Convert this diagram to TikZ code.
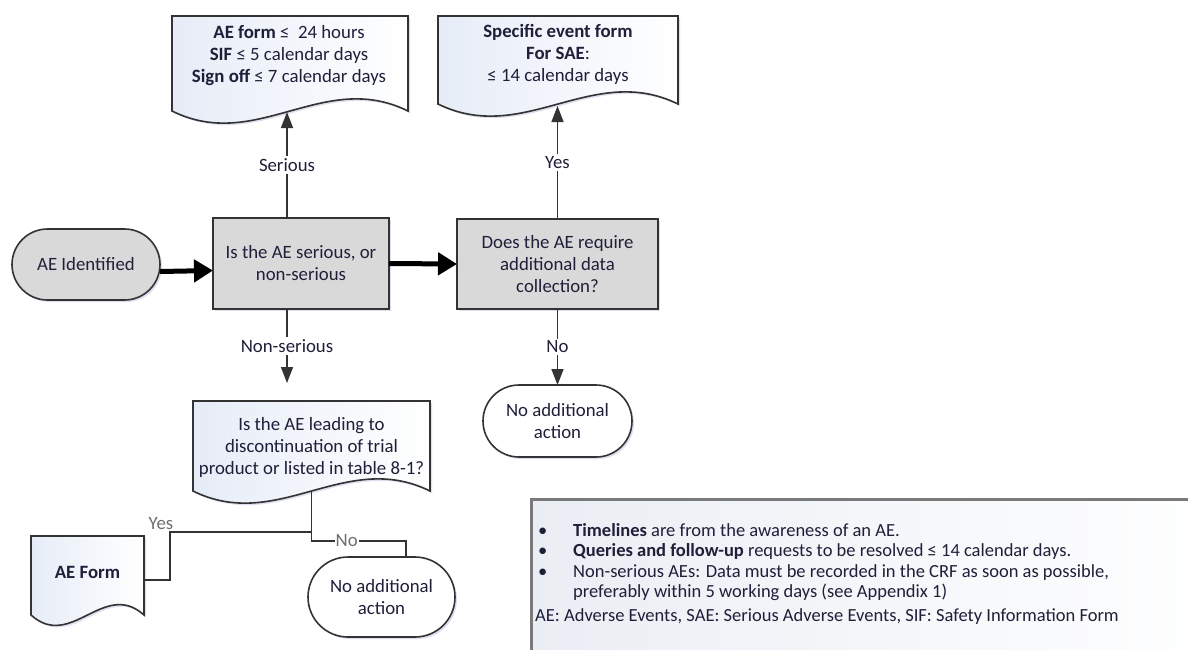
\documentclass[tikz,border=0pt]{standalone}
\usepackage{fontspec}
\setmainfont{Carlito}
\usetikzlibrary{arrows.meta,calc,shadows,shapes.misc}
\definecolor{txt}{HTML}{1F1F3A}
\definecolor{edge}{HTML}{333333}
\definecolor{boxgray}{HTML}{D9D9D9}
\definecolor{docblue}{HTML}{E6ECF7}
\definecolor{lbl}{HTML}{6E6E6E}
\definecolor{noteedge}{HTML}{7A7A7A}
\definecolor{noteblue}{HTML}{EAEEF4}
\newcommand\docshape[3]{%
  \path[docstyle] (#1.north west) -- (#1.north east) -- (#1.south east)
    .. controls +(-#2,-#3) and +(#2,#3) .. (#1.south west) -- cycle;}
\begin{document}
\begin{tikzpicture}[x=1pt,y=-1pt,
  font=\fontsize{18.8}{22}\selectfont, text=txt,
  shadowed/.style={drop shadow={shadow xshift=2pt,shadow yshift=-2pt,opacity=0.18,fill=blue!40!gray}},
  base/.style={draw=edge, line width=1.6pt, align=center, inner sep=0pt, outer sep=0pt},
  procbox/.style={base, rectangle, fill=boxgray, shadowed},
  term/.style={base, rounded rectangle, shadowed},
  docnode/.style={rectangle, draw=none, inner sep=0pt, outer sep=0pt},
  docstyle/.style={draw=edge, line width=1.6pt, left color=docblue, right color=white, shadowed},
  txtnode/.style={align=center, inner sep=0pt},
  conn/.style={draw=edge, line width=1.5pt},
  arr/.style={conn, -{Triangle[length=16pt,width=12pt]}},
  bigarr/.style={draw=black, line width=5pt, -{Triangle[length=19pt,width=22pt]}},
  lab/.style={fill=white, inner sep=2pt, text=txt},
  graylab/.style={fill=white, inner sep=1pt, text=lbl}
  ]
\useasboundingbox (0,0) rectangle (1188,649);
\fill[white] (0,0) rectangle (1188,649);

% documents (outline nodes)
\node[docnode, minimum width=236pt, minimum height=95pt] (doc1) at (290,63.5) {};
\node[docnode, minimum width=240pt, minimum height=88pt] (doc2) at (558,60) {};
\node[docnode, minimum width=237pt, minimum height=90pt] (doc3) at (311.5,446) {};
\node[docnode, minimum width=113pt, minimum height=79pt] (aeform) at (87.5,575.5) {};
\docshape{doc1}{85}{42}
\docshape{doc2}{86}{42}
\docshape{doc3}{85}{42}
\docshape{aeform}{40}{36}

\node[txtnode] (doc1txt) at (289,55.5) {\textbf{AE form} ≤\ \ 24 hours\\\textbf{SIF} ≤ 5 calendar days\\\textbf{Sign off} ≤ 7 calendar days};
\node[txtnode] (doc2txt) at (558,54.5) {\textbf{Specific event form}\\\textbf{For SAE}:\\≤ 14 calendar days};
\node[txtnode] (doc3txt) at (311.5,447.5) {Is the AE leading to\\discontinuation of trial\\product or listed in table 8-1?};
\node[txtnode] (aeformtxt) at (87.5,572) {\textbf{AE Form}};

% process and terminal shapes
\node[term, fill=boxgray, minimum width=148pt, minimum height=71pt] (aeid) at (86,264.5) {AE Identified};
\node[procbox, minimum width=176pt, minimum height=91pt] (box1) at (301,263.5) {Is the AE serious, or\\non-serious};
\node[procbox, minimum width=201pt, minimum height=90pt] (box2) at (557.5,264) {Does the AE require\\additional data\\collection?};
\node[term, fill=white, minimum width=149pt, minimum height=72pt] (oval1) at (557.5,421) {No additional\\action};
\node[term, fill=white, minimum width=147pt, minimum height=80pt] (oval2) at (381.5,597) {No additional\\action};

% connectors
\draw[bigarr] ([yshift=-7pt]aeid.east) -- ([yshift=-7pt]box1.west);
\draw[bigarr] (box1.east) -- (box2.west);

\coordinate (doc1in) at (287,112);
\coordinate (doc2in) at (557.5,106);
\coordinate (nsend) at (287,383);
\draw[arr] (box1.north -| doc1in) -- node[lab]{Serious} (doc1in);
\draw[arr] (box2.north) -- node[lab]{Yes} (doc2in);
\draw[arr] (box1.south -| nsend) -- node[lab]{Non-serious} (nsend);
\draw[arr] (box2.south) -- node[lab]{No} (oval1.north);

\coordinate (j1) at (170,532);
\coordinate (j2) at (406,541);
\draw[conn] (doc3.south) |- (j1) |- ([yshift=-4.5pt]aeform.east);
\node[text=lbl, anchor=south, inner sep=1pt] (yeslab) at ([xshift=-9pt,yshift=1pt]j1) {Yes};
\draw[conn] (doc3.south) |- node[graylab, pos=0.686]{No} (j2) -- (j2 |- oval2.north);

% note box
\node[draw=noteedge, line width=2.5pt, left color=noteblue, right color=white, anchor=north west,
      minimum width=700pt, minimum height=180pt, inner sep=0pt] (note) at (530,498) {};
\node[anchor=north west, align=left, inner sep=0pt, font=\fontsize{18.5}{20.5}\selectfont] (notetxt) at (535,523)
 {\makebox[38pt][l]{\hspace{3pt}•}\textbf{Timelines} are from the awareness of an AE.\\
  \makebox[38pt][l]{\hspace{3pt}•}\textbf{Queries and follow-up} requests to be resolved ≤ 14 calendar days.\\
  \makebox[38pt][l]{\hspace{3pt}•}Non-serious AEs: Data must be recorded in the CRF as soon as possible,\\
  \hspace*{38pt}preferably within 5 working days (see Appendix 1)\\[3pt]
  AE: Adverse Events, SAE: Serious Adverse Events, SIF: Safety Information Form};
\end{tikzpicture}
\end{document}
